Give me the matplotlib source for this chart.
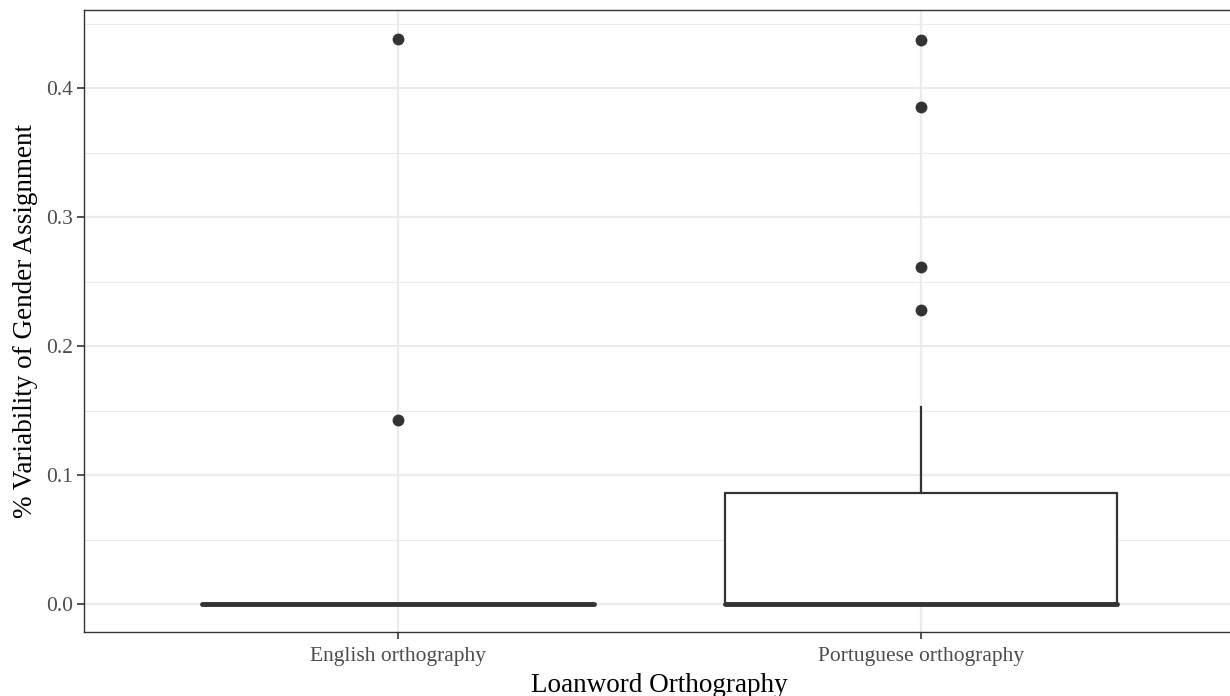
import numpy as np
import matplotlib.pyplot as plt

plt.rcParams['font.family'] = ['Liberation Serif', 'DejaVu Serif']

# group labels and box statistics
categories = ["English orthography", "Portuguese orthography"]
whislo = [0.0, 0.0]
q1 = [0.0, 0.0]
med = [0.0, 0.0]
q3 = [0.0, 0.086]
whishi = [0.0, 0.153]
outliers = [[0.438, 0.143], [0.437, 0.385, 0.261, 0.228]]

stats = []
for i in range(len(categories)):
    stats.append(dict(label=categories[i], whislo=whislo[i], q1=q1[i], med=med[i],
                      q3=q3[i], whishi=whishi[i], fliers=outliers[i]))

fig = plt.figure(figsize=(12.3, 6.96), dpi=100)
ax = fig.add_axes([84 / 1230, 64 / 696, 1151 / 1230, 622 / 696])

dark = "#333333"
ax.bxp(stats, positions=[1, 2], widths=0.75, showcaps=False, patch_artist=True,
       boxprops=dict(facecolor="white", edgecolor=dark, linewidth=1.6),
       whiskerprops=dict(color=dark, linewidth=1.6),
       medianprops=dict(color=dark, linewidth=3.5, solid_capstyle="round"),
       flierprops=dict(marker="o", markerfacecolor=dark, markeredgecolor=dark,
                       markersize=7.5),
       zorder=3)

ax.set_xlim(0.4, 2.6)
ax.set_ylim(-0.0217, 0.4605)
ax.set_yticks([0.0, 0.1, 0.2, 0.3, 0.4])
ax.set_yticklabels(["0.0", "0.1", "0.2", "0.3", "0.4"])
ax.set_yticks([0.05, 0.15, 0.25, 0.35, 0.45], minor=True)
ax.set_xticks([1, 2])
ax.set_xticklabels(categories)

ax.grid(True, which="major", color="#EBEBEB", linewidth=1.6, zorder=0)
ax.grid(True, which="minor", axis="y", color="#EBEBEB", linewidth=0.8, zorder=0)
ax.set_axisbelow(True)

ax.tick_params(axis="both", which="major", colors="#333333", labelcolor="#4D4D4D",
               labelsize=15.5, length=5, width=1.2, pad=3)
ax.tick_params(axis="x", which="major", pad=6)
ax.tick_params(axis="y", which="minor", length=0)
for s in ax.spines.values():
    s.set_color("#333333")
    s.set_linewidth(1)

ax.set_xlabel("Loanword Orthography", fontsize=19.5, labelpad=4.5)
ax.set_ylabel("% Variability of Gender Assignment", fontsize=19.5, labelpad=6)

fig.savefig("out.png", dpi=100)
